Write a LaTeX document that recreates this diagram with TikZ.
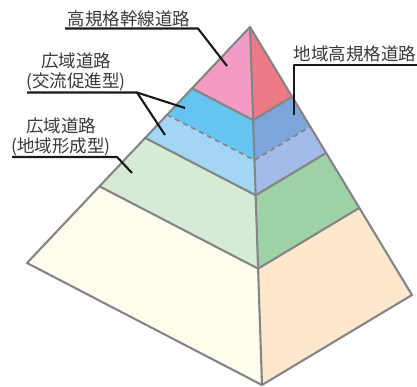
\documentclass[tikz,border=0pt]{standalone}
\usepackage{fontspec}
\newfontfamily\jp{Noto Sans CJK JP}
\usetikzlibrary{calc}
\definecolor{cpink}{HTML}{F29CC3}
\definecolor{cred}{HTML}{EE7A85}
\definecolor{cblueA}{HTML}{66C4F0}
\definecolor{cblueB}{HTML}{7DA5DC}
\definecolor{cblueC}{HTML}{A3D6F5}
\definecolor{cblueD}{HTML}{A3BBEA}
\definecolor{cgreenA}{HTML}{D6EBD6}
\definecolor{cgreenB}{HTML}{9CD2A6}
\definecolor{ccream}{HTML}{FFFCEE}
\definecolor{cpeach}{HTML}{FDE8CD}
\definecolor{edge}{HTML}{858585}
\definecolor{txt}{HTML}{3A3A3A}
\tikzset{
  face/.style={draw=edge,line width=2.1pt,line join=round},
  lbl/.style={font=\jp\fontsize{17.5}{20}\selectfont,text=txt,inner sep=0pt,align=center},
  leader/.style={draw=black!90,line width=2.1pt,line join=round}
}
\begin{document}
\begin{tikzpicture}[x=1pt,y=-1pt]
\useasboundingbox (0,0) rectangle (417,387);
\fill[white] (0,0) rectangle (417,387);
\coordinate (A) at (250,27);
\coordinate (L) at (27,263);
\coordinate (B) at (262,385);
\coordinate (R) at (412,295);
\foreach \n/\f in {1/0.26,2/0.372,3/0.47,4/0.675}{
  \coordinate (L\n) at ($(A)!\f!(L)$);
  \coordinate (B\n) at ($(A)!\f!(B)$);
  \coordinate (R\n) at ($(A)!\f!(R)$);
}
% fills
\fill[cpink] (A) -- (L1) -- (B1) -- cycle;
\fill[cred] (A) -- (B1) -- (R1) -- cycle;
\fill[cblueA] (L1) -- (L2) -- (B2) -- (B1) -- cycle;
\fill[cblueB] (B1) -- (B2) -- (R2) -- (R1) -- cycle;
\fill[cblueC] (L2) -- (L3) -- (B3) -- (B2) -- cycle;
\fill[cblueD] (B2) -- (B3) -- (R3) -- (R2) -- cycle;
\fill[cgreenA] (L3) -- (L4) -- (B4) -- (B3) -- cycle;
\fill[cgreenB] (B3) -- (B4) -- (R4) -- (R3) -- cycle;
\fill[ccream] (L4) -- (L) -- (B) -- (B4) -- cycle;
\fill[cpeach] (B4) -- (B) -- (R) -- (R4) -- cycle;
% edges
\draw[draw=edge,line width=1.7pt,dash pattern=on 5pt off 4pt] (L2) -- (B2) -- (R2);
\draw[face] (L1) -- (B1) -- (R1);
\draw[face] (L3) -- (B3) -- (R3);
\draw[face] (L4) -- (B4) -- (R4);
\draw[face] (A) -- (B);
\draw[face] (A) -- (L) -- (B) -- (R) -- cycle;
% labels
\node[lbl] (t1) at (129,19) {高規格幹線道路};
\node[lbl] (t2) at (355,54) {地域高規格道路};
\node[lbl] (t3) at (76,72) {広域道路\\(交流促進型)};
\node[lbl] (t4) at (61,137) {広域道路\\(地域形成型)};
% leader anchors
\coordinate (u1a) at (65,28.5);
\coordinate (u1b) at (198,28.5);
\coordinate (p1) at (227,66);
\coordinate (u2a) at (417,65);
\coordinate (u2b) at (294,65);
\coordinate (p2) at (294,115);
\coordinate (u3a) at (27,92.5);
\coordinate (u3b) at (137,92.5);
\coordinate (p3a) at (185,108);
\coordinate (p3b) at (165,135);
\coordinate (u4a) at (12,157);
\coordinate (u4b) at (117,157);
\coordinate (p4) at (132,173);
\draw[leader] (u1a) -- (u1b) -- (p1);
\draw[leader] (u2a) -- (u2b) -- (p2);
\draw[leader] (u3a) -- (u3b) -- (p3a);
\draw[leader] (u3b) -- (p3b);
\draw[leader] (u4a) -- (u4b) -- (p4);
\end{tikzpicture}
\end{document}
